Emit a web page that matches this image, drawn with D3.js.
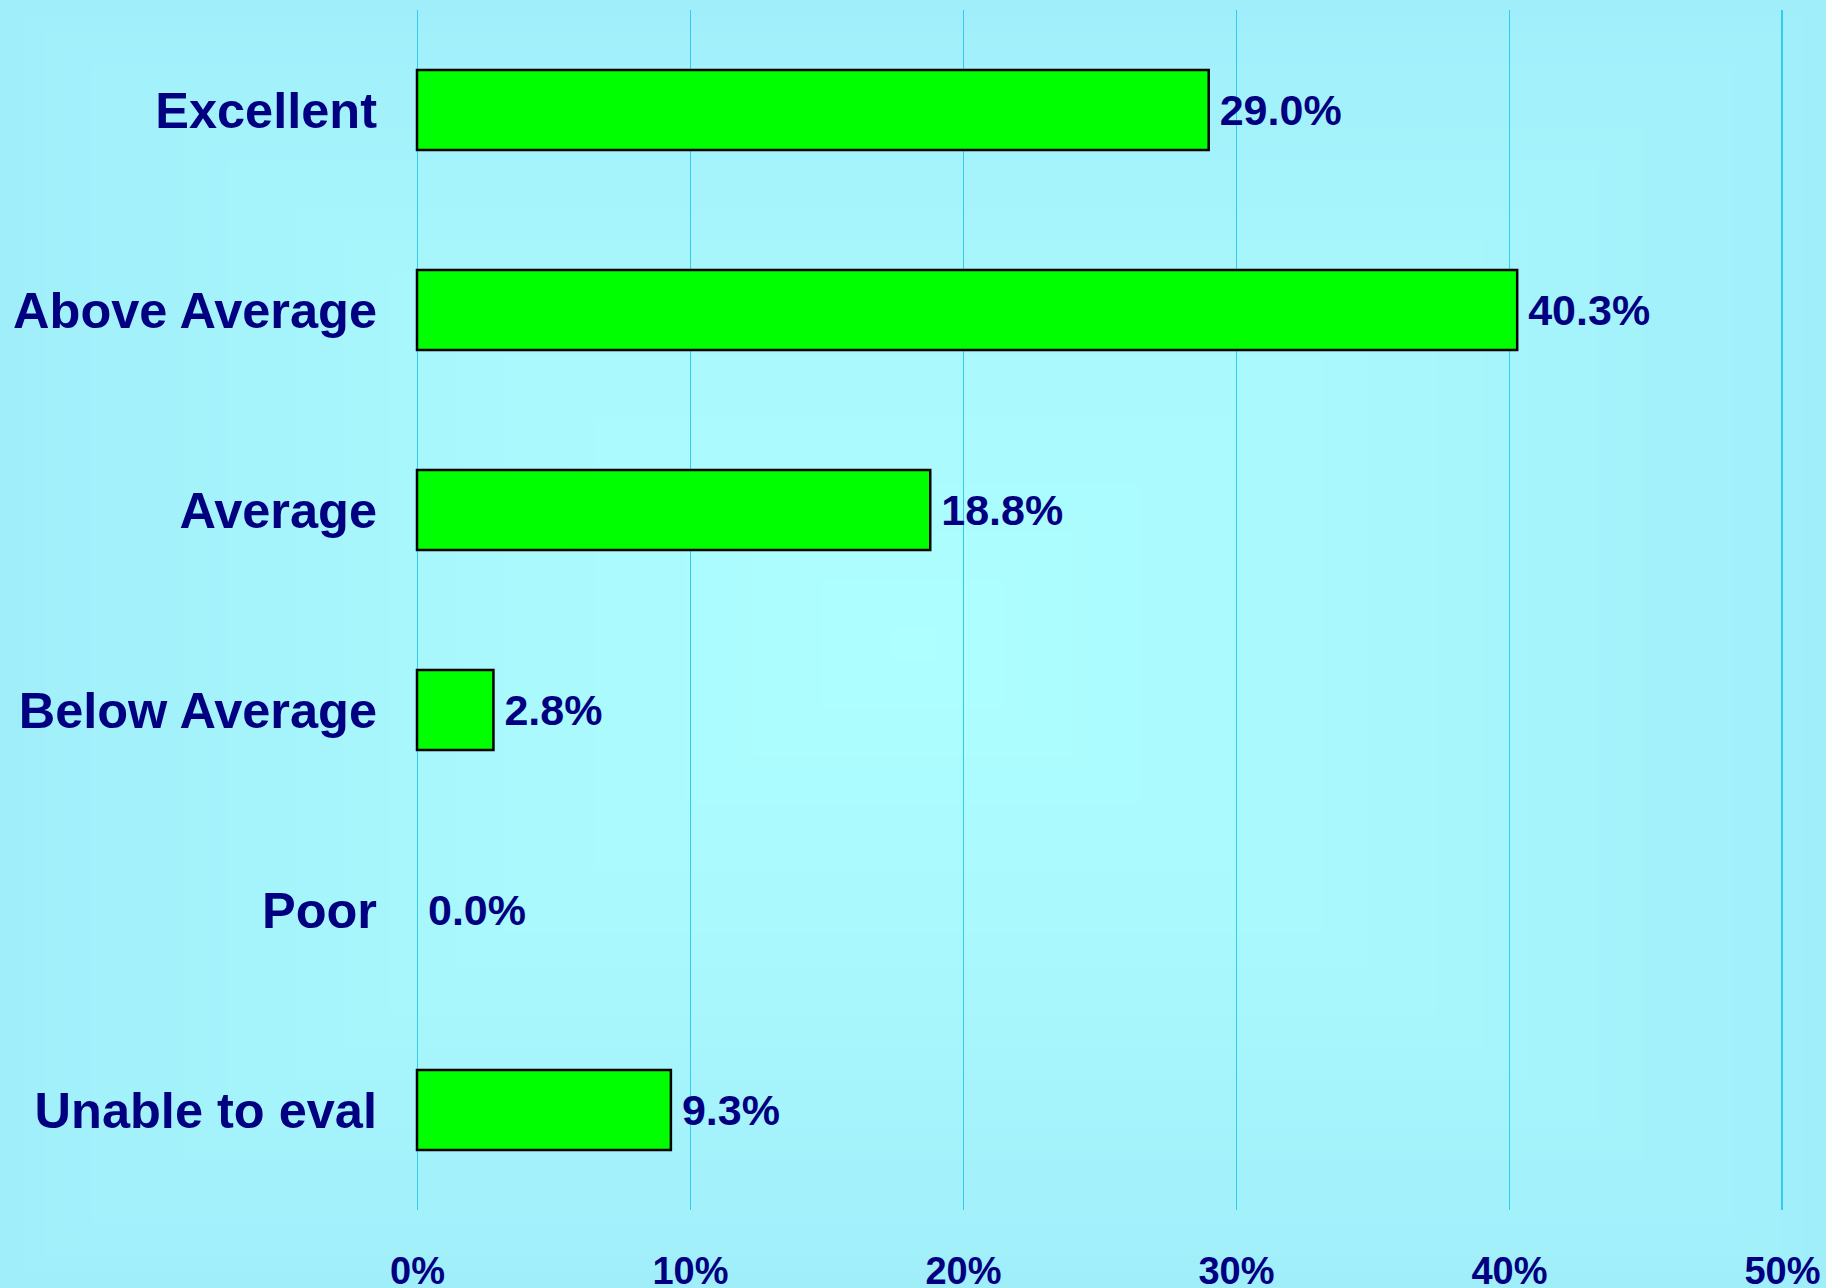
<!DOCTYPE html>
<html>
<head>
<meta charset="utf-8">
<script src="https://cdn.jsdelivr.net/npm/d3@7"></script>
<style>
  html, body { margin: 0; padding: 0; background: #a0eefa; }
  svg { display: block; }
  text { font-family: "Liberation Sans", Arial, sans-serif; font-weight: bold; fill: #000080; }
</style>
</head>
<body>
<script>
const categories = ["Excellent", "Above Average", "Average", "Below Average", "Poor", "Unable to eval"];
const values = [29.0, 40.3, 18.8, 2.8, 0.0, 9.3];
const valueLabels = ["29.0%", "40.3%", "18.8%", "2.8%", "0.0%", "9.3%"];
const tickValues = [0, 10, 20, 30, 40, 50];
const tickLabels = ["0%", "10%", "20%", "30%", "40%", "50%"];

const W = 1826, H = 1288;
const svg = d3.select("body").append("svg").attr("width", W).attr("height", H);

// rectangular "from center" gradient background
const edge = "#a0eefa", center = "#aeffff";
const N = 40, cx = W / 2, cy = H / 2;
const bg = svg.append("g");
for (let i = 0; i < N; i++) {
  const t = i / N;
  bg.append("rect")
    .attr("x", t * cx).attr("y", t * cy)
    .attr("width", W - 2 * t * cx).attr("height", H - 2 * t * cy)
    .attr("fill", d3.interpolateRgb(edge, center)(Math.pow(t, 0.8)));
}

const x = d3.scaleLinear().domain([0, 50]).range([417, 1782]);
const y = d3.scaleBand().domain(categories).range([10, 1210]).paddingInner(0.6).paddingOuter(0.3);

// gridlines
svg.append("g").selectAll("line").data(tickValues).join("line")
  .attr("x1", d => x(d)).attr("x2", d => x(d))
  .attr("y1", 10).attr("y2", 1210)
  .attr("stroke", "#33ccf0")
  .attr("stroke-width", d => d === 50 ? 2 : 1)
  .attr("shape-rendering", "crispEdges");

// x axis tick labels
const xAxis = d3.axisBottom(x).tickValues(tickValues).tickFormat((d, i) => tickLabels[i]).tickSize(0).tickPadding(0);
const gx = svg.append("g").attr("transform", "translate(0,1257)").call(xAxis);
gx.select(".domain").remove();
gx.selectAll("text").attr("font-size", 38).attr("dy", "0.716em").attr("y", 0)
  .style("font-family", "'Liberation Sans', Arial, sans-serif").style("font-weight", "bold").attr("fill", "#000080");

// bars
const data = categories.map((c, i) => ({ c, v: values[i], l: valueLabels[i] }));
svg.append("g").selectAll("rect").data(data.filter(d => d.v > 0)).join("rect")
  .attr("x", x(0)).attr("y", d => y(d.c))
  .attr("width", d => x(d.v) - x(0)).attr("height", y.bandwidth())
  .attr("fill", "#00ff00").attr("stroke", "#000").attr("stroke-width", 2.5);

// value labels
svg.append("g").selectAll("text").data(data).join("text")
  .attr("x", d => x(d.v) + 11)
  .attr("y", d => y(d.c) + y.bandwidth() / 2)
  .attr("dy", "0.36em")
  .attr("font-size", 43)
  .text(d => d.l);

// category labels
svg.append("g").selectAll("text").data(categories).join("text")
  .attr("x", 377)
  .attr("y", d => y(d) + y.bandwidth() / 2)
  .attr("dy", "0.36em")
  .attr("text-anchor", "end")
  .attr("font-size", 50.5)
  .text(d => d);
</script>
</body>
</html>
